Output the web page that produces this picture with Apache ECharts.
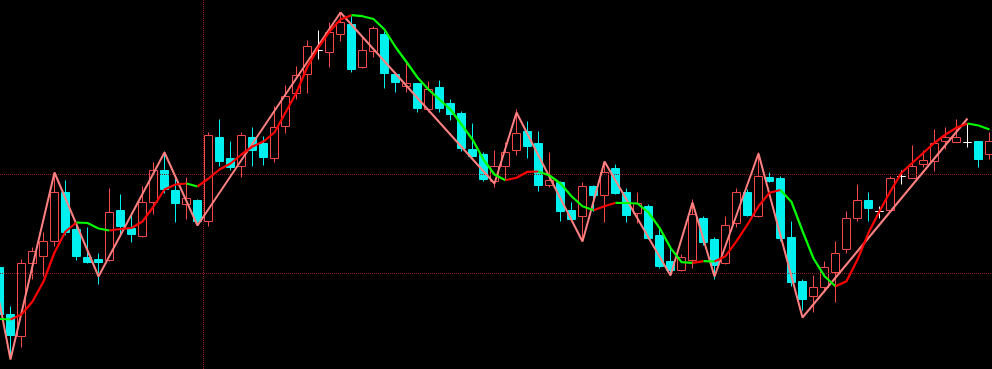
<!DOCTYPE html>
<html><head><meta charset="utf-8">
<script src="https://cdn.jsdelivr.net/npm/echarts@6/dist/echarts.min.js"></script>
<style>html,body{margin:0;padding:0;background:#000;}#c{width:992px;height:369px;}</style>
</head><body><div id="c"></div>
<script>
const opens  = [132,85,63,136,143,158,207,170,142,140,139,189,171,163,197,229,209,195,199,178,262,241,233,262,256,241,273,306,325,349,347,365,375,332,348,365,325,313,316,290,312,296,286,250,245,218,233,249,268,256,214,217,189,183,213,204,231,207,186,193,164,138,129,139,181,160,136,176,207,183,222,221,162,118,103,112,127,150,181,199,188,189,223,221,235,238,258,257,257,258,245];
const closes = [85,64,136,148,158,207,167,143,137,137,187,173,165,197,229,210,196,201,178,264,238,232,264,249,242,272,303,324,353,349,367,377,330,349,371,326,317,316,291,310,291,285,251,243,220,233,247,266,253,214,219,188,180,213,204,227,206,184,196,161,133,129,142,185,157,134,174,207,184,223,218,161,117,100,112,132,146,181,199,191,188,221,223,233,239,256,262,262,257,240,258];
const lows   = [82,41,52,120,123,153,164,139,136,115,138,163,157,162,185,206,177,180,174,173,233,229,222,233,234,237,266,300,306,340,332,358,327,331,342,311,307,307,287,287,287,279,248,242,218,212,220,244,241,208,212,178,179,158,188,177,205,177,176,160,131,124,128,131,154,120,135,172,183,182,217,158,113,89,87,107,97,146,178,178,181,187,215,221,232,228,250,257,252,232,240];
const highs  = [134,93,140,152,167,227,219,174,172,146,211,205,187,213,237,248,221,222,200,267,280,258,267,272,263,293,314,333,359,369,377,387,383,363,373,368,325,337,316,318,319,300,288,276,247,249,257,290,278,268,247,218,197,217,214,238,235,211,207,195,170,150,145,200,183,162,183,211,210,247,227,223,178,120,124,138,158,188,215,207,193,223,229,254,249,270,272,280,276,258,267];
const maValues = [80.5,80,85,98,118,147,168,177,176.5,171,169,170.5,171.5,178,193,210,215,216,213,221,230,236,245,253,258,267,287,307,333,352,368,380,384.3,383.3,380.5,370,352.5,337.5,322,310,300,290,275,260,240,225,219.3,221.7,227.7,228,224,216,203.3,193.3,189.3,193.3,196.7,196.5,196,187,171.7,151.7,137.3,136.7,138.3,138,143.3,158.3,175,193.3,206.7,209.5,197.5,168.5,141,123.3,113.3,118.3,140,166.7,188.3,208.3,226.7,236.7,246.7,256.7,265,271.7,276,274,270];
const zigzagIdx = [0,1,5,9,15,18,31,45,47,53,55,61,63,65,69,73,88];
const zigzagVal = [97,40,227,123,247,174,387,216,287,158,238,124,197,123,246,82,281];
const gridLevels = [225,126];
const separatorAt = 18.5;

const n = opens.length;
const bodyData = [], dojiData = [];
for (let i = 0; i < n; i++) {
  const d = [i, opens[i], closes[i], lows[i], highs[i]];
  if (opens[i] === closes[i]) dojiData.push(d); else bodyData.push(d);
}
const zz = zigzagIdx.map((k, j) => [k, zigzagVal[j]]);

const maSeries = [];
const dir = i => maValues[i + 1] > maValues[i] ? 'up' : 'down';
for (let i = 0; i < n - 1;) {
  const d = dir(i);
  let j = i;
  while (j < n - 1 && dir(j) === d) j++;
  const pts = [];
  for (let k = i; k <= j; k++) pts.push([k, maValues[k]]);
  maSeries.push({
    type: 'line', data: pts, symbol: 'none', silent: true, z: 6,
    lineStyle: { color: d === 'up' ? '#ff0000' : '#00ff00', width: 2.2 }
  });
  i = j;
}

const slot = 11, plotW = 992;
const xMin = 0.5 / slot, xMax = xMin + plotW / slot;
const candleCommon = { type: 'candlestick', barWidth: 8, z: 3, silent: true, encode: { x: 0, y: [1, 2, 3, 4] } };

const chart = echarts.init(document.getElementById('c'));
chart.setOption({
  backgroundColor: '#000000',
  animation: false,
  grid: { left: 0, right: 0, top: 0, bottom: 0, containLabel: false },
  xAxis: {
    type: 'value', min: xMin, max: xMax,
    axisLine: { show: false }, axisTick: { show: false }, axisLabel: { show: false }, splitLine: { show: false }
  },
  yAxis: {
    type: 'value', min: 30.5, max: 399.5,
    axisLine: { show: false }, axisTick: { show: false }, axisLabel: { show: false }, splitLine: { show: false }
  },
  series: [
    Object.assign({}, candleCommon, {
      data: bodyData,
      itemStyle: { color: 'rgba(0,0,0,0)', color0: '#00f0f0', borderColor: '#f54848', borderColor0: '#00f0f0', borderWidth: 1 },
      markLine: {
        silent: true, symbol: ['none', 'none'], label: { show: false },
        lineStyle: { color: '#8a1c1c', type: 'dotted', width: 1 },
        data: gridLevels.map(v => ({ yAxis: v })).concat([{ xAxis: separatorAt }])
      }
    }),
    Object.assign({}, candleCommon, {
      data: dojiData,
      itemStyle: { color: '#ffffff', color0: '#ffffff', borderColor: '#ffffff', borderColor0: '#ffffff', borderColorDoji: '#ffffff', borderWidth: 1 }
    }),
    {
      type: 'line', data: zz, symbol: 'none', silent: true, z: 5,
      lineStyle: { color: '#ff8080', width: 2 }
    },
    ...maSeries
  ]
});
</script>
</body></html>
